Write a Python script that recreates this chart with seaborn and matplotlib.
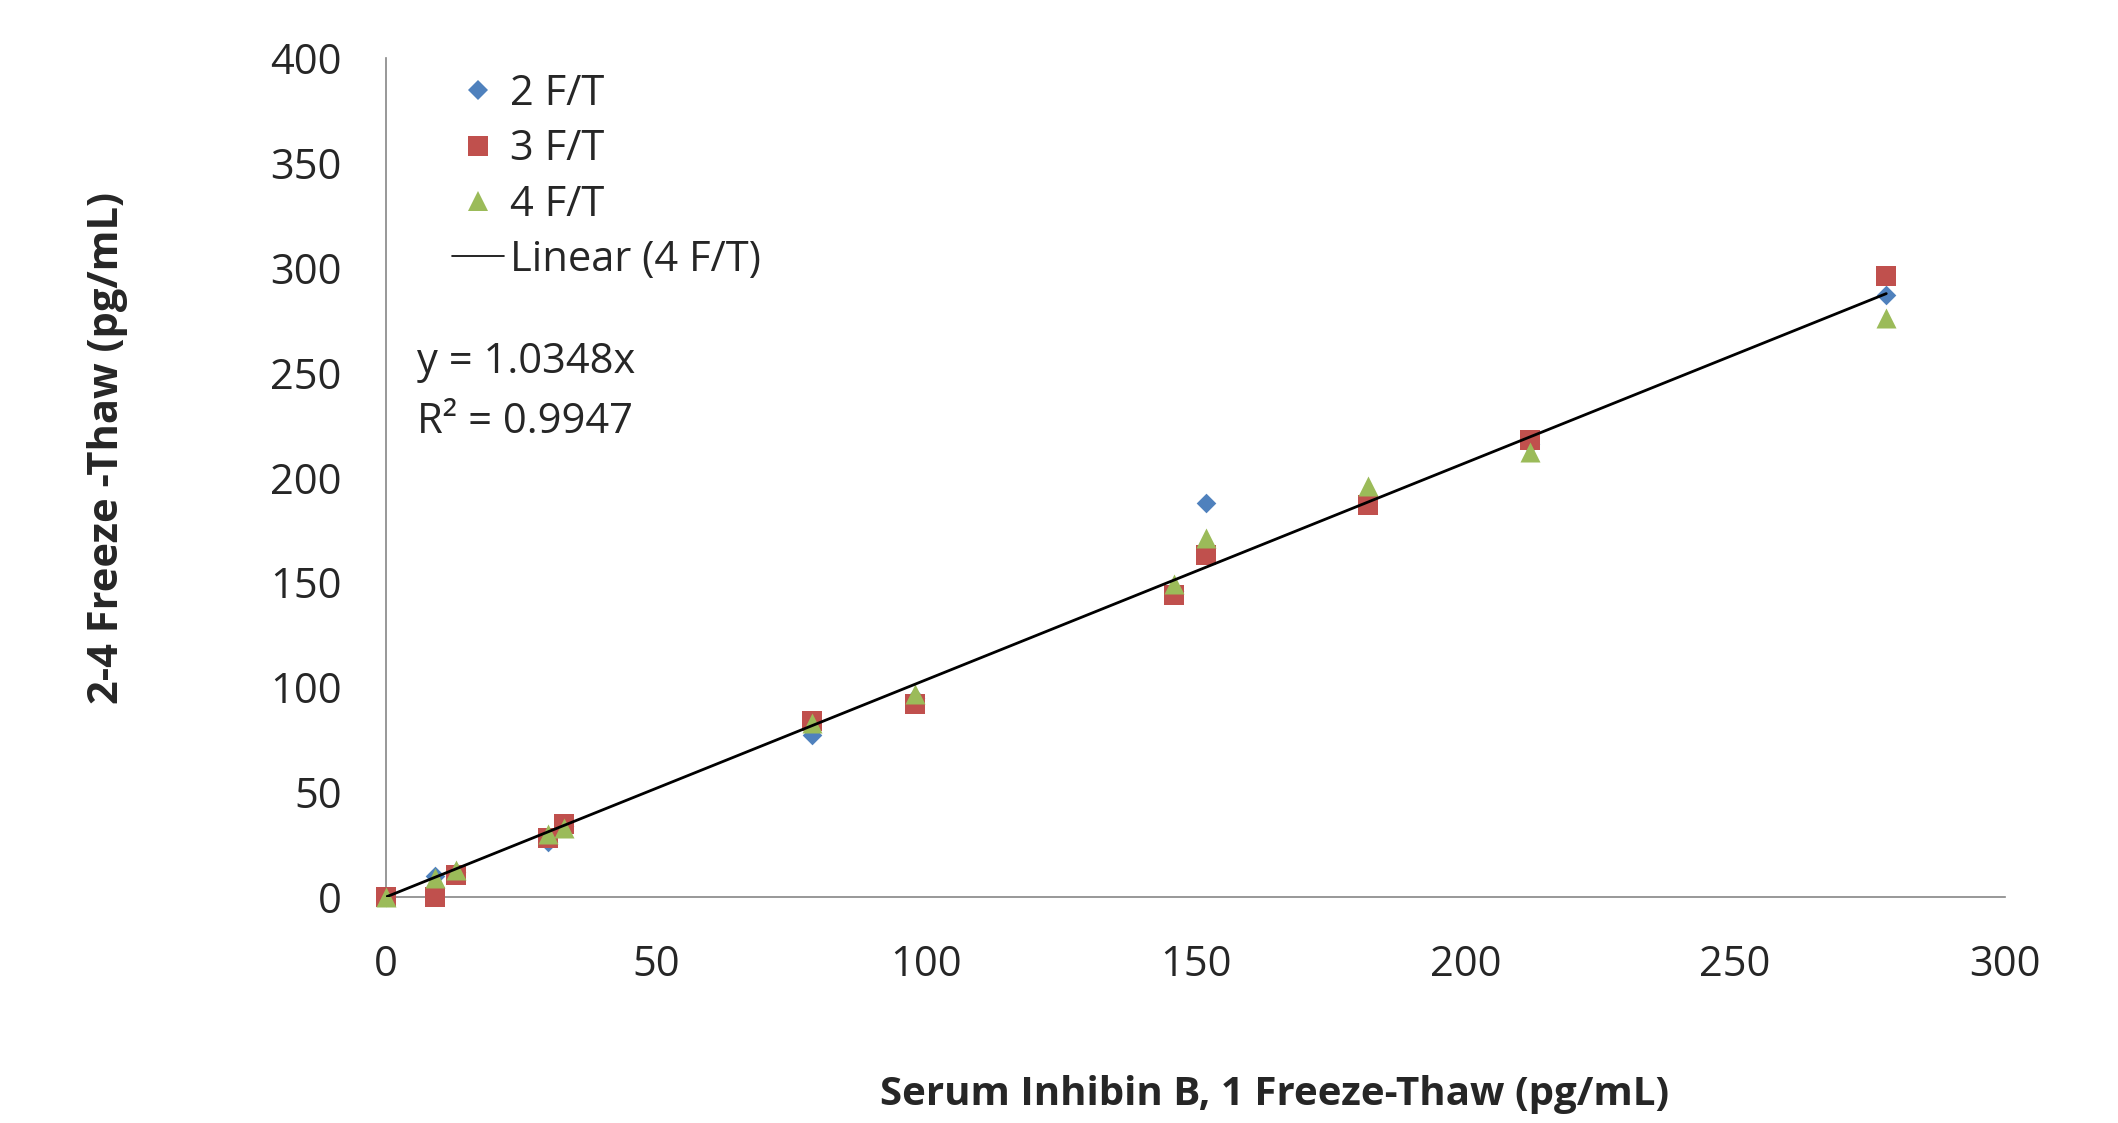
import numpy as np
import pandas as pd
import matplotlib
matplotlib.use("Agg")
import matplotlib.pyplot as plt
import seaborn as sns
from matplotlib.lines import Line2D

# values (pg/mL)
x_one_ft = [0, 9, 13, 30, 33, 79, 98, 146, 152, 182, 212, 278]
y_two_ft = [0, 10, 12, 26, 34, 77, 95, 146, 188, 190, 216, 287]
y_three_ft = [0, 0, 10.5, 28, 35, 84, 92, 144, 163, 187, 218, 296]
y_four_ft = [0, 9, 13, 30, 33, 83, 97, 149, 171, 196, 212, 276]

series_names = ["2 F/T", "3 F/T", "4 F/T"]
fit_slope = 1.0348
fit_r2 = 0.9947

colors = {"2 F/T": "#4F81BD", "3 F/T": "#C0504D", "4 F/T": "#9BBB59"}
markers = {"2 F/T": "D", "3 F/T": "s", "4 F/T": "^"}
sizes = {"2 F/T": 10.0, "3 F/T": 14.4, "4 F/T": 14.4}

df = pd.concat([
    pd.DataFrame({"x": x_one_ft, "y": vals, "series": name})
    for name, vals in zip(series_names, [y_two_ft, y_three_ft, y_four_ft])
], ignore_index=True)

sns.set_style("white")
plt.rcParams["font.family"] = ["Open Sans", "DejaVu Sans"]

fig = plt.figure(figsize=(21.18, 11.23), dpi=100)
ax = fig.add_axes([386 / 2118, 1 - 897 / 1123, (2005 - 386) / 2118, (897 - 58) / 1123])

for name in series_names:
    sub = df[df["series"] == name]
    sns.scatterplot(data=sub, x="x", y="y", ax=ax, color=colors[name],
                    marker=markers[name], s=sizes[name] ** 2, linewidth=0,
                    clip_on=False, zorder=3, legend=False)

# linear trend line for 4 F/T, forced through zero
fit_x = np.array([0, max(x_one_ft)])
sns.lineplot(x=fit_x, y=fit_slope * fit_x, ax=ax, color="black", linewidth=2,
             zorder=4, legend=False)

ax.set_xlim(0, 300)
ax.set_ylim(0, 400)
ax.set_xticks(range(0, 301, 50))
ax.set_yticks(range(0, 401, 50))
ax.tick_params(axis="both", length=0, labelsize=30)
ax.tick_params(axis="x", pad=34)
ax.tick_params(axis="y", pad=32)
ax.set_xlabel("")
ax.set_ylabel("")
for side in ["top", "right"]:
    ax.spines[side].set_visible(False)
for side in ["left", "bottom"]:
    ax.spines[side].set_color("#868686")
    ax.spines[side].set_linewidth(1.2)

handles = [Line2D([], [], linestyle="none", marker=markers[n], color=colors[n],
                  markersize=sizes[n], markeredgewidth=0) for n in series_names]
handles.append(Line2D([], [], color="black", linewidth=1.2))
labels = series_names + ["Linear (4 F/T)"]
fig.legend(handles, labels, loc="upper left", bbox_to_anchor=(452 / 2118, 1 - 73 / 1123),
           bbox_transform=fig.transFigure, frameon=False, fontsize=30,
           borderpad=0, borderaxespad=0, handlelength=1.25, handletextpad=0.15,
           labelspacing=0.32)

fig.text(417 / 2118, 1 - 362 / 1123, "y = 1.0348x", fontsize=30, va="center", ha="left")
fig.text(417 / 2118, 1 - 422 / 1123, "R² = 0.9947", fontsize=30, va="center", ha="left")

fig.text(1275 / 2118, 1 - 1094 / 1123, "Serum Inhibin B, 1 Freeze-Thaw (pg/mL)",
         fontsize=29, fontweight="bold", ha="center", va="center")
fig.text(108 / 2118, 1 - 448 / 1123, "2-4 Freeze -Thaw (pg/mL)",
         fontsize=30, fontweight="bold", ha="center", va="center", rotation=90)

fig.savefig("out.png", dpi=100)
